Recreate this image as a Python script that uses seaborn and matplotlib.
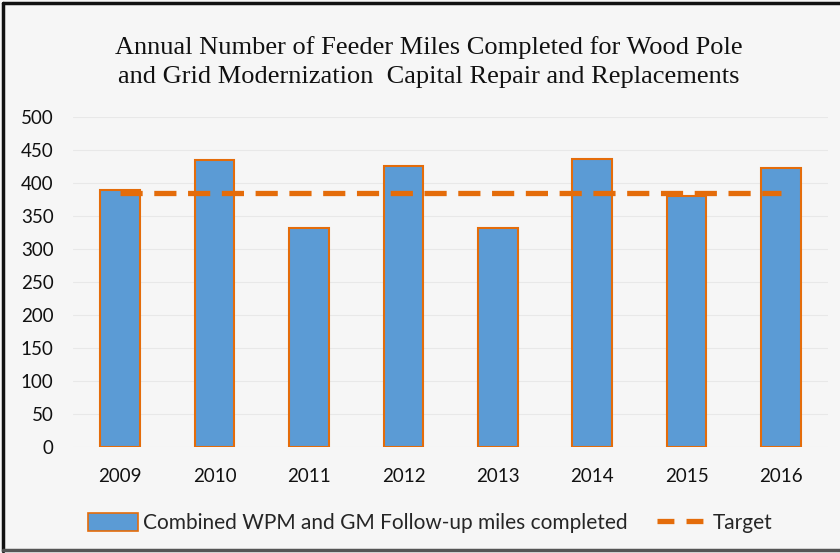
import matplotlib
matplotlib.use("Agg")
import matplotlib.pyplot as plt
import seaborn as sns
import pandas as pd
from matplotlib.patches import Patch
from matplotlib.lines import Line2D

years = ["2009", "2010", "2011", "2012", "2013", "2014", "2015", "2016"]
miles_completed = [389, 435, 332, 426, 332, 436, 380, 423]
target = [385, 385, 385, 385, 385, 385, 385, 385]
y_ticks = [0, 50, 100, 150, 200, 250, 300, 350, 400, 450, 500]

bar_label = "Combined WPM and GM Follow-up miles completed"
line_label = "Target"
title = ("Annual Number of Feeder Miles Completed for Wood Pole\n"
         "and Grid Modernization  Capital Repair and Replacements")

bar_color = "#5B9BD5"
edge_color = "#E46C0A"

sns.set_theme(style="white")
plt.rcParams["font.family"] = ["Lato", "DejaVu Sans"]

df = pd.DataFrame({"year": years, "miles": miles_completed, "target": target})

fig = plt.figure(figsize=(8.4, 5.53), dpi=100)
fig.patch.set_facecolor("#f6f6f6")
ax = fig.add_axes([0.087, 0.192, 0.899, 0.596])
ax.set_facecolor("#f6f6f6")

sns.barplot(data=df, x="year", y="miles", color=bar_color, width=0.42,
            edgecolor=edge_color, linewidth=1.5, saturation=1, ax=ax, zorder=3)
sns.lineplot(data=df, x="year", y="target", color=edge_color, linewidth=3.8,
             dashes=False, ax=ax, zorder=4)
ax.lines[-1].set_dashes([4.2, 2.2])

ax.set_ylim(0, 500)
ax.set_xlim(-0.5, len(years) - 0.5)
ax.set_yticks(y_ticks)
ax.yaxis.grid(True, color="#e8e8e8", linewidth=0.8, zorder=0)
ax.set_xlabel("")
ax.set_ylabel("")
for s in ax.spines.values():
    s.set_visible(False)
ax.tick_params(axis="both", length=0, labelsize=13.5, colors="#111111")
ax.tick_params(axis="y", pad=14)
ax.tick_params(axis="x", pad=15)
for t in ax.get_yticklabels():
    t.set_horizontalalignment("right")

fig.text(0.51, 0.888, title, ha="center", va="center", fontsize=19,
         family="Liberation Serif", color="#111111", linespacing=1.45)

handles = [Patch(facecolor=bar_color, edgecolor=edge_color, linewidth=1.2),
           Line2D([0], [0], color=edge_color, linewidth=3.8, dashes=[3.2, 2.3])]
fig.legend(handles, [bar_label, line_label], loc="center",
           bbox_to_anchor=(0.512, 0.054), ncol=2, frameon=False,
           fontsize=15, handlelength=2.4, handleheight=0.9,
           handletextpad=0.25, columnspacing=1.4)

# chart frame: dark on the left and top, softer along the bottom, open on the right
fig.add_artist(Line2D([0.004, 0.004], [0.004, 0.995], transform=fig.transFigure,
                      color="#111111", linewidth=2.5))
fig.add_artist(Line2D([0.004, 1.0], [0.994, 0.994], transform=fig.transFigure,
                      color="#111111", linewidth=2.5))
fig.add_artist(Line2D([0.004, 1.0], [0.006, 0.006], transform=fig.transFigure,
                      color="#555555", linewidth=2.5))

fig.savefig("out.png", dpi=100, facecolor=fig.get_facecolor())
